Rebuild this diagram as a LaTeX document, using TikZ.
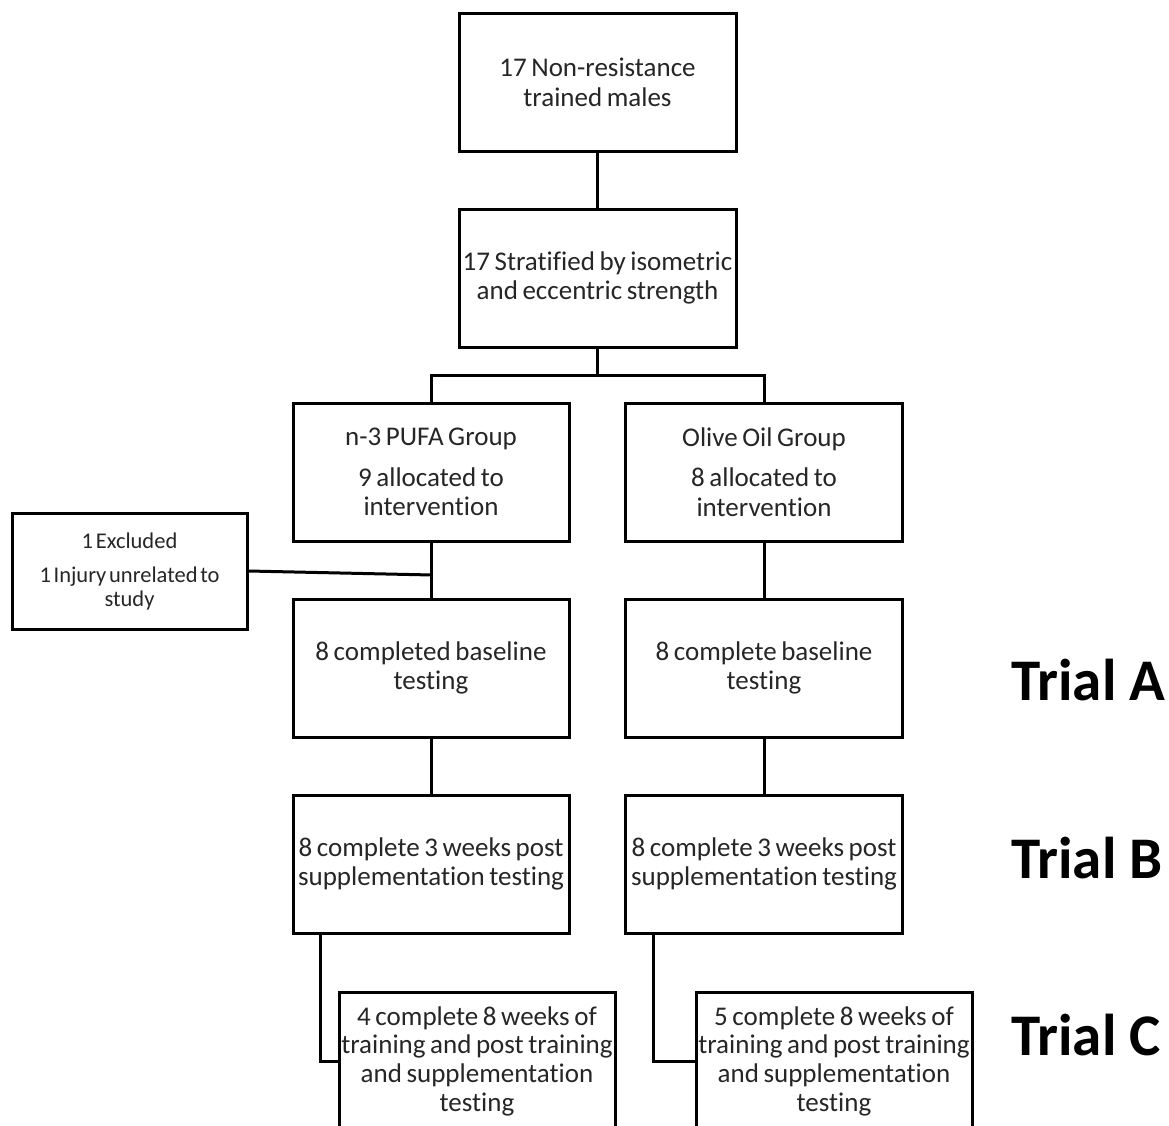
\documentclass[tikz,border=0pt]{standalone}
\usepackage{fontspec}
\setmainfont{Carlito}[Ligatures=NoCommon]
\newcommand\boxtext{\fontsize{27}{29.5}\selectfont\spaceskip=0.17em plus 0.05em\relax}
\newcommand\fintext{\fontsize{27}{28.7}\selectfont\spaceskip=0.17em plus 0.05em\relax}
\newcommand\smalltext{\fontsize{22.5}{24}\selectfont\spaceskip=0.12em plus 0.05em\relax}
\begin{document}
\begin{tikzpicture}[x=1pt,y=-1pt,
  box/.style={draw=black,line width=3pt,minimum width=277pt,minimum height=138pt,
    align=center,inner sep=0pt,font=\boxtext,text=black!85},
  link/.style={draw=black,line width=3pt},
  triallbl/.style={anchor=base west,font=\fontsize{59}{60}\selectfont\bfseries,inner sep=0pt}]
\useasboundingbox (0,0) rectangle (1169,1126);
\clip (0,0) rectangle (1169,1126);
\fill[white] (0,0) rectangle (1169,1126);

% main chain of boxes
\node[box] (top)   at (597.5,82.5) {17 Non-resistance\\trained males};
\node[box] (strat) at (597.5,278)  {17 Stratified by isometric\\and eccentric strength};
\node[box,minimum width=276pt] (pufa)  at (431,472) {n-3 PUFA Group\\[11pt]9 allocated to\\intervention};
\node[box] (olive) at (764,472) {Olive Oil Group\\[11pt]8 allocated to\\intervention};
\node[box,minimum width=235pt,minimum height=116pt,font=\smalltext]
  (excl) at (129.5,571) {1 Excluded\\[10pt]1 Injury unrelated to\\study};
\node[box,minimum width=276pt] (baseL) at (431,668) {8 completed baseline\\testing};
\node[box] (baseR) at (764,668) {8 complete baseline\\testing};
\node[box,minimum width=276pt] (wkL) at (431,864) {8 complete 3 weeks post\\supplementation testing};
\node[box] (wkR) at (764,864) {8 complete 3 weeks post\\supplementation testing};
\node[box,minimum width=276pt,font=\fintext] (finL) at (477,1061)
  {4 complete 8 weeks of\\training and post training\\and supplementation\\testing};
\node[box,minimum width=276pt,font=\fintext] (finR) at (834,1061)
  {5 complete 8 weeks of\\training and post training\\and supplementation\\testing};

% trial labels
\node[triallbl] (ta) at (1011,700) {Trial A};
\node[triallbl] (tb) at (1011,878) {Trial B};
\node[triallbl] (tc) at (1011,1055) {Trial C};

% connectors
\draw[link] (top) -- (strat);
\coordinate (split) at ([yshift=-27]strat.south);
\draw[link] (strat.south) -- (split);
\draw[link] (pufa.north) |- (split) -| (olive.north);
\draw[link] (pufa) -- (baseL);
\coordinate (join) at (432,575);
\draw[link] (excl.east) -- (join);
\draw[link] (olive) -- (baseR);
\draw[link] (baseL) -- (wkL);
\draw[link] (baseR) -- (wkR);
\draw[link] ([xshift=29]wkL.south west) |- (finL.west);
\draw[link] ([xshift=29]wkR.south west) |- (finR.west);
\end{tikzpicture}
\end{document}
